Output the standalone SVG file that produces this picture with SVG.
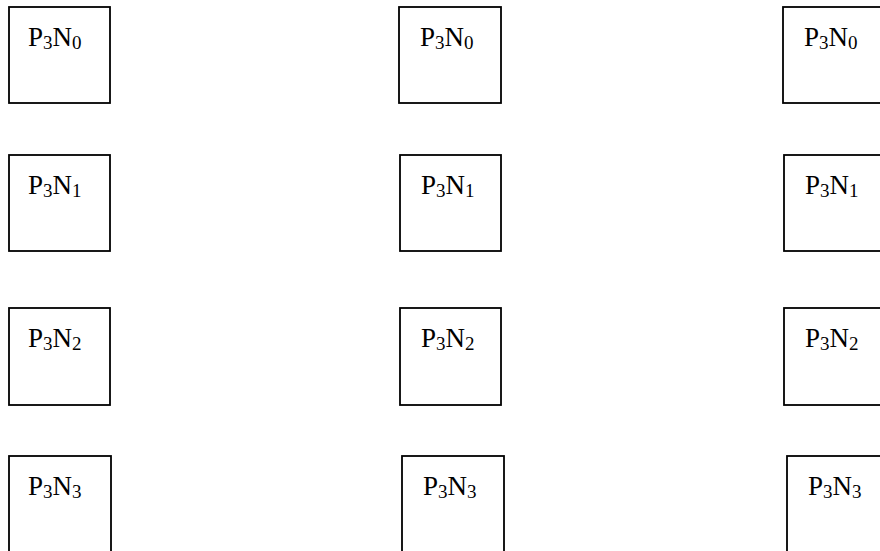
<svg xmlns="http://www.w3.org/2000/svg" width="880" height="551" viewBox="0 0 880 551">
  <style>
    .box { fill: #ffffff; stroke: #000000; stroke-width: 1.8; }
    .lbl { font-family: "Liberation Serif", "Times New Roman", serif; font-size: 27px; fill: #000000; }
    .sub { font-size: 19px; }
  </style>
  <rect width="880" height="551" fill="#ffffff"/>

  <!-- Column 1 -->
  <g id="c1r0"><rect class="box" x="9" y="7" width="101" height="96"/>
    <text class="lbl" x="28" y="46">P<tspan class="sub" dy="3">3</tspan><tspan dy="-3">N</tspan><tspan class="sub" dy="3">0</tspan></text></g>
  <g id="c1r1"><rect class="box" x="9" y="155" width="101" height="96"/>
    <text class="lbl" x="28" y="194">P<tspan class="sub" dy="3">3</tspan><tspan dy="-3">N</tspan><tspan class="sub" dy="3">1</tspan></text></g>
  <g id="c1r2"><rect class="box" x="9" y="308" width="101" height="97"/>
    <text class="lbl" x="28" y="347">P<tspan class="sub" dy="3">3</tspan><tspan dy="-3">N</tspan><tspan class="sub" dy="3">2</tspan></text></g>
  <g id="c1r3"><rect class="box" x="9" y="456" width="102" height="120"/>
    <text class="lbl" x="28" y="495">P<tspan class="sub" dy="3">3</tspan><tspan dy="-3">N</tspan><tspan class="sub" dy="3">3</tspan></text></g>

  <!-- Column 2 -->
  <g id="c2r0"><rect class="box" x="399" y="7" width="102" height="96"/>
    <text class="lbl" x="420" y="46">P<tspan class="sub" dy="3">3</tspan><tspan dy="-3">N</tspan><tspan class="sub" dy="3">0</tspan></text></g>
  <g id="c2r1"><rect class="box" x="400" y="155" width="101" height="96"/>
    <text class="lbl" x="421" y="194">P<tspan class="sub" dy="3">3</tspan><tspan dy="-3">N</tspan><tspan class="sub" dy="3">1</tspan></text></g>
  <g id="c2r2"><rect class="box" x="400" y="308" width="101" height="97"/>
    <text class="lbl" x="421" y="347">P<tspan class="sub" dy="3">3</tspan><tspan dy="-3">N</tspan><tspan class="sub" dy="3">2</tspan></text></g>
  <g id="c2r3"><rect class="box" x="402" y="456" width="102" height="120"/>
    <text class="lbl" x="423" y="495">P<tspan class="sub" dy="3">3</tspan><tspan dy="-3">N</tspan><tspan class="sub" dy="3">3</tspan></text></g>

  <!-- Column 3 (runs past the right edge) -->
  <g id="c3r0"><rect class="box" x="783" y="7" width="120" height="96"/>
    <text class="lbl" x="804" y="46">P<tspan class="sub" dy="3">3</tspan><tspan dy="-3">N</tspan><tspan class="sub" dy="3">0</tspan></text></g>
  <g id="c3r1"><rect class="box" x="784" y="155" width="120" height="96"/>
    <text class="lbl" x="805" y="194">P<tspan class="sub" dy="3">3</tspan><tspan dy="-3">N</tspan><tspan class="sub" dy="3">1</tspan></text></g>
  <g id="c3r2"><rect class="box" x="784" y="308" width="120" height="97"/>
    <text class="lbl" x="805" y="347">P<tspan class="sub" dy="3">3</tspan><tspan dy="-3">N</tspan><tspan class="sub" dy="3">2</tspan></text></g>
  <g id="c3r3"><rect class="box" x="787" y="456" width="120" height="120"/>
    <text class="lbl" x="808" y="495">P<tspan class="sub" dy="3">3</tspan><tspan dy="-3">N</tspan><tspan class="sub" dy="3">3</tspan></text></g>

  <g id="connectors"/>
</svg>
